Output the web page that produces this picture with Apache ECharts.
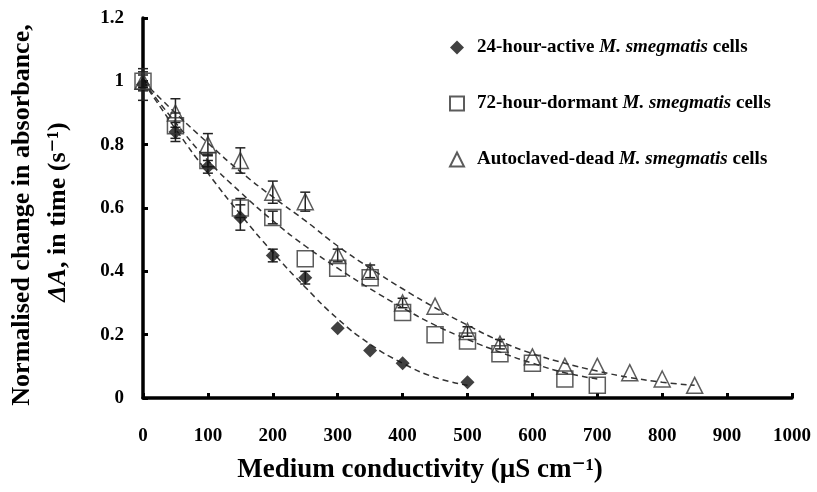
<!DOCTYPE html>
<html>
<head>
<meta charset="utf-8">
<script src="https://cdn.jsdelivr.net/npm/echarts@6/dist/echarts.min.js"></script>
<style>
  html, body { margin: 0; padding: 0; background: #fff; }
  #chart { width: 817px; height: 492px; }
</style>
</head>
<body>
<div id="chart"></div>
<script>
  // conductivity (uS/cm) and normalised dA values
  var activeX = [0, 50, 100, 150, 200, 250, 300, 350, 400, 500];
  var activeY = [0.99, 0.84, 0.73, 0.57, 0.45, 0.38, 0.22, 0.15, 0.11, 0.05];
  var activeErr = [0.05, 0.03, 0.02, 0.04, 0.02, 0.02, 0, 0, 0, 0];

  var dormantX = [0, 50, 100, 150, 200, 250, 300, 350, 400, 450, 500, 550, 600, 650, 700];
  var dormantY = [1.0, 0.86, 0.75, 0.60, 0.57, 0.44, 0.41, 0.38, 0.27, 0.20, 0.18, 0.14, 0.11, 0.06, 0.04];
  var dormantErr = [0.03, 0.04, 0.02, 0.03, 0.02, 0, 0, 0, 0, 0, 0, 0, 0, 0, 0];

  var deadX = [0, 50, 100, 150, 200, 250, 300, 350, 400, 450, 500, 550, 600, 650, 700, 750, 800, 850];
  var deadY = [1.0, 0.90, 0.80, 0.75, 0.65, 0.62, 0.45, 0.40, 0.30, 0.29, 0.21, 0.17, 0.13, 0.10, 0.10, 0.08, 0.06, 0.04];
  var deadErr = [0.02, 0.045, 0.035, 0.04, 0.035, 0.03, 0.02, 0.02, 0.015, 0, 0.015, 0.015, 0, 0, 0, 0, 0, 0];

  // dashed trend lines
  var activeFit = [[0, 1.0], [50, 0.85], [100, 0.71], [150, 0.58], [200, 0.46], [250, 0.35], [300, 0.25], [350, 0.17], [400, 0.11], [450, 0.065], [500, 0.04]];
  var dormantFit = [[0, 1.0], [50, 0.87], [100, 0.75], [150, 0.65], [200, 0.56], [250, 0.48], [300, 0.41], [350, 0.345], [400, 0.285], [450, 0.23], [500, 0.185], [550, 0.145], [600, 0.11], [650, 0.08], [700, 0.06]];
  var deadFit = [[0, 1.0], [50, 0.90], [100, 0.805], [150, 0.715], [200, 0.635], [250, 0.56], [300, 0.48], [350, 0.41], [400, 0.345], [450, 0.285], [500, 0.23], [550, 0.18], [600, 0.14], [650, 0.11], [700, 0.085], [750, 0.065], [800, 0.05], [850, 0.04]];

  var xTicks = [0, 100, 200, 300, 400, 500, 600, 700, 800, 900, 1000];
  var yTicks = [0, 0.2, 0.4, 0.6, 0.8, 1, 1.2];

  var seriesNames = [
    '24-hour-active M. smegmatis cells',
    '72-hour-dormant M. smegmatis cells',
    'Autoclaved-dead M. smegmatis cells'
  ];

  var SERIF = '"Liberation Serif", "DejaVu Serif", serif';

  function pairs(xs, ys) {
    return xs.map(function (x, i) { return [x, ys[i]]; });
  }
  function errRows(xs, ys, errs) {
    var out = [];
    xs.forEach(function (x, i) {
      if (errs[i] > 0) out.push([x, ys[i] - errs[i], ys[i] + errs[i]]);
    });
    return out;
  }

  function renderErr(params, api) {
    var lo = api.coord([api.value(0), api.value(1)]);
    var hi = api.coord([api.value(0), api.value(2)]);
    var w = 5;
    var st = { stroke: '#222', lineWidth: 1.5 };
    return {
      type: 'group',
      children: [
        { type: 'line', shape: { x1: lo[0], y1: lo[1], x2: hi[0], y2: hi[1] }, style: st },
        { type: 'line', shape: { x1: lo[0] - w, y1: lo[1], x2: lo[0] + w, y2: lo[1] }, style: st },
        { type: 'line', shape: { x1: hi[0] - w, y1: hi[1], x2: hi[0] + w, y2: hi[1] }, style: st }
      ]
    };
  }

  function fitLine(data) {
    return {
      type: 'line',
      data: data,
      smooth: true,
      showSymbol: false,
      silent: true,
      lineStyle: { color: '#333', width: 1.5, type: [6, 4] },
      z: 2
    };
  }
  function errSeries(rows) {
    return { type: 'custom', renderItem: renderErr, data: rows, silent: true, z: 3 };
  }

  var chart = echarts.init(document.getElementById('chart'));
  chart.setOption({
    animation: false,
    backgroundColor: '#fff',
    grid: { left: 143, right: 25, top: 18, bottom: 94 },
    xAxis: {
      type: 'value',
      min: xTicks[0],
      max: xTicks[xTicks.length - 1],
      interval: 100,
      axisLine: { lineStyle: { color: '#000', width: 3.5 } },
      axisTick: { inside: true, length: 5, lineStyle: { color: '#000', width: 3 } },
      axisLabel: {
        color: '#000', fontFamily: SERIF, fontWeight: 'bold', fontSize: 19, margin: 29,
        formatter: function (v) { return String(v); }
      },
      splitLine: { show: false }
    },
    yAxis: {
      type: 'value',
      min: yTicks[0],
      max: yTicks[yTicks.length - 1],
      interval: 0.2,
      axisLine: { show: true, lineStyle: { color: '#000', width: 3.5 } },
      axisTick: { show: true, inside: true, length: 5, lineStyle: { color: '#000', width: 3 } },
      axisLabel: {
        color: '#000', fontFamily: SERIF, fontWeight: 'bold', fontSize: 19, margin: 19,
        formatter: function (v) { return String(Math.round(v * 10) / 10); }
      },
      splitLine: { show: false }
    },
    legend: {
      orient: 'vertical',
      left: 444,
      top: 33,
      itemGap: 37,
      itemWidth: 14,
      itemHeight: 14,
      data: seriesNames,
      formatter: function (name) {
        return name.replace('M. smegmatis', '{i|M. smegmatis}');
      },
      textStyle: {
        color: '#000',
        fontFamily: SERIF,
        fontWeight: 'bold',
        fontSize: 19,
        padding: [0, 0, 0, 8],
        rich: {
          i: { fontFamily: SERIF, fontStyle: 'italic', fontSize: 19, color: '#000' }
        }
      }
    },
    graphic: [
      {
        type: 'text', x: 22, y: 215, rotation: Math.PI / 2,
        style: {
          text: 'Normalised change in absorbance,',
          font: 'bold 26px ' + SERIF, fill: '#000',
          textAlign: 'center', textVerticalAlign: 'middle'
        }
      },
      {
        type: 'text', x: 58, y: 212, rotation: Math.PI / 2,
        style: {
          text: '{i|ΔA}, in time (s⁻¹)',
          font: 'bold 26px ' + SERIF, fill: '#000',
          textAlign: 'center', textVerticalAlign: 'middle',
          rich: { i: { fontStyle: 'italic', fontWeight: 'bold', fontSize: 26, fontFamily: SERIF } }
        }
      },
      {
        type: 'text', x: 420, y: 470,
        style: {
          text: 'Medium conductivity (µS cm⁻¹)',
          font: 'bold 27px ' + SERIF, fill: '#000',
          textAlign: 'center', textVerticalAlign: 'middle'
        }
      }
    ],
    series: [
      fitLine(activeFit),
      fitLine(dormantFit),
      fitLine(deadFit),
      errSeries(errRows(activeX, activeY, activeErr)),
      errSeries(errRows(dormantX, dormantY, dormantErr)),
      errSeries(errRows(deadX, deadY, deadErr)),
      {
        name: seriesNames[0],
        type: 'scatter',
        data: pairs(activeX, activeY),
        symbol: 'diamond',
        symbolSize: 14,
        itemStyle: { color: '#111' },
        z: 4
      },
      {
        name: seriesNames[1],
        type: 'scatter',
        data: pairs(dormantX, dormantY),
        symbol: 'rect',
        symbolSize: 16,
        itemStyle: { color: 'rgba(255,255,255,0)', borderColor: '#333', borderWidth: 1.5 },
        z: 5
      },
      {
        name: seriesNames[2],
        type: 'scatter',
        data: pairs(deadX, deadY),
        symbol: 'triangle',
        symbolSize: 16,
        itemStyle: { color: 'rgba(255,255,255,0)', borderColor: '#333', borderWidth: 1.5 },
        z: 6
      }
    ]
  });
</script>
</body>
</html>
